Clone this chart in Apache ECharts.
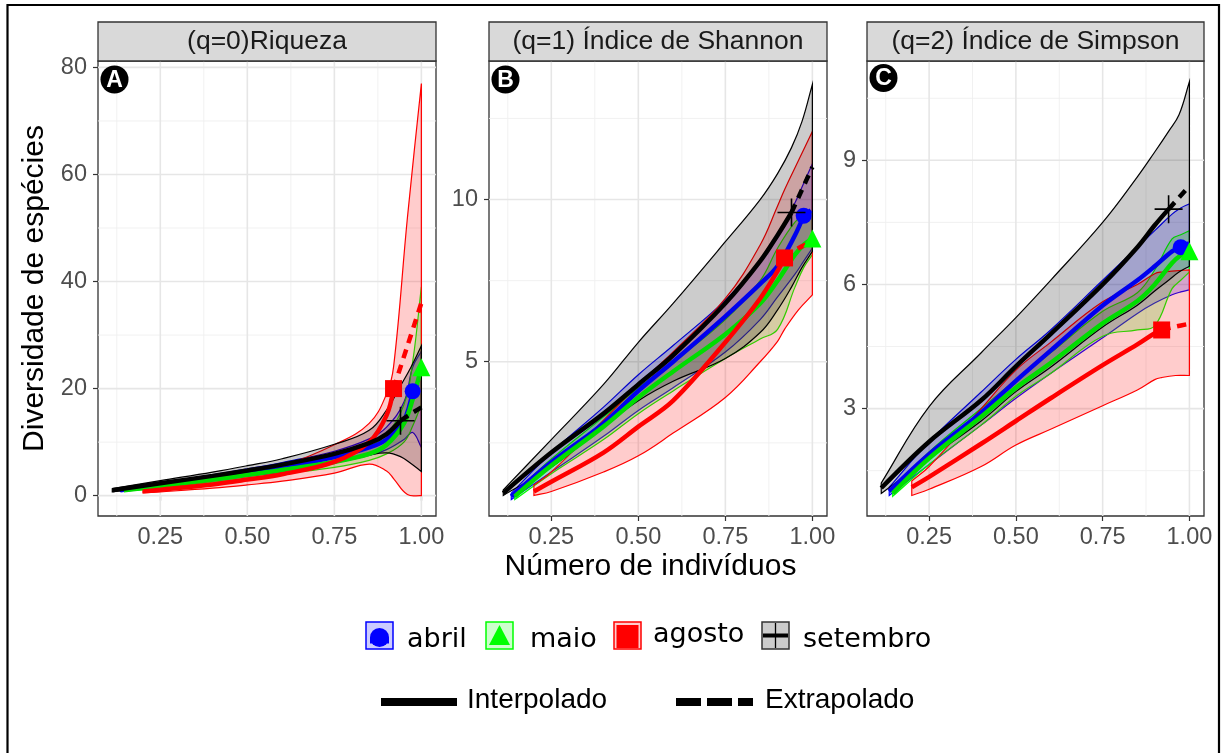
<!DOCTYPE html>
<html>
<head>
<meta charset="utf-8">
<script src="https://cdn.jsdelivr.net/npm/echarts@6/dist/echarts.min.js"></script>
<style>
  html, body { margin: 0; padding: 0; background: #ffffff; }
  #chart { width: 1223px; height: 753px; }
</style>
</head>
<body>
<div id="chart"></div>
<script>
// ---------------------------------------------------------------------------
// Data: rarefaction / extrapolation curves per month (relative sample size)
// ---------------------------------------------------------------------------
const months = ['abril', 'maio', 'agosto', 'setembro'];
const panelTitles = ['(q=0)Riqueza', '(q=1) Índice de Shannon', '(q=2) Índice de Simpson'];
const panelLetters = ['A', 'B', 'C'];

const xAbril    = [0.135, 0.25, 0.4, 0.5, 0.6, 0.75, 0.85, 0.9, 0.95, 0.975, 1.0];
const xMaio     = [0.145, 0.25, 0.4, 0.5, 0.6, 0.75, 0.85, 0.9, 0.95, 0.975, 1.0];
const xAgosto   = [0.2, 0.25, 0.4, 0.5, 0.6, 0.75, 0.85, 0.9, 0.92, 0.96, 1.0];
const xSetembro = [0.112, 0.25, 0.4, 0.5, 0.6, 0.75, 0.85, 0.9, 0.94, 0.97, 1.0];
// position of the observed sample in each list: interpolated before, extrapolated after
const observedIndex = [9, 10, 8, 8];

// q = 0 (species richness)
const q0AbrilMean    = [1.0, 2.0, 3.3, 4.3, 5.3, 7.2, 9.0, 10.5, 14.0, 19.5, 22.0];
const q0AbrilLow     = [0.8, 1.6, 2.7, 3.6, 4.4, 6.1, 7.5, 8.6, 10.5, 11.8, 9.0];
const q0AbrilHigh    = [1.2, 2.4, 3.9, 5.0, 6.2, 8.3, 10.6, 12.8, 17.5, 24.0, 27.0];
const q0MaioMean     = [1.0, 1.8, 3.0, 3.9, 4.8, 6.3, 7.8, 9.5, 13.5, 18.0, 24.0];
const q0MaioLow      = [0.8, 1.4, 2.5, 3.3, 4.1, 5.3, 6.6, 7.8, 10.0, 13.0, 17.0];
const q0MaioHigh     = [1.2, 2.2, 3.5, 4.5, 5.5, 7.3, 9.2, 11.5, 17.0, 25.0, 39.0];
const q0AgostoMean   = [0.8, 1.1, 2.1, 3.0, 4.0, 6.3, 10.0, 15.0, 20.0, 28.0, 36.0];
const q0AgostoLow    = [0.5, 0.7, 1.4, 2.0, 2.7, 4.2, 5.9, 4.6, 3.2, 0.2, 0.0];
const q0AgostoHigh   = [1.0, 1.4, 2.8, 4.0, 5.5, 9.5, 13.5, 19.0, 24.0, 52.0, 77.0];
const q0SetembroMean = [1.0, 2.3, 3.7, 4.7, 5.8, 7.8, 9.8, 11.5, 14.0, 15.3, 16.5];
const q0SetembroLow  = [0.7, 1.8, 3.0, 3.8, 4.7, 6.3, 7.6, 8.0, 7.3, 6.0, 4.5];
const q0SetembroHigh = [1.3, 2.8, 4.4, 5.6, 6.9, 9.6, 12.2, 16.0, 20.5, 24.0, 28.0];

// q = 1 (Shannon)
const q1AbrilMean    = [0.85, 1.9, 3.1, 4.1, 5.0, 6.4, 7.4, 7.95, 8.9, 9.5, 9.7];
const q1AbrilLow     = [0.75, 1.6, 2.7, 3.5, 4.2, 5.3, 6.3, 7.0, 7.7, 8.1, 8.5];
const q1AbrilHigh    = [0.95, 2.2, 3.6, 4.6, 5.5, 6.9, 8.1, 8.9, 9.9, 10.5, 11.1];
const q1MaioMean     = [0.85, 1.8, 3.0, 3.9, 4.7, 5.85, 6.8, 7.5, 8.3, 8.6, 8.8];
const q1MaioLow      = [0.75, 1.55, 2.6, 3.4, 4.1, 5.1, 5.7, 6.0, 7.3, 7.9, 8.3];
const q1MaioHigh     = [0.95, 2.0, 3.3, 4.2, 5.0, 6.3, 7.5, 8.5, 9.3, 9.5, 9.6];
const q1AgostoMean   = [1.0, 1.3, 2.2, 3.0, 3.8, 5.6, 6.95, 7.8, 8.2, 8.5, 8.7];
const q1AgostoLow    = [0.88, 1.0, 1.6, 2.1, 2.8, 3.9, 5.0, 5.63, 6.0, 6.6, 7.06];
const q1AgostoHigh   = [1.2, 1.6, 3.2, 4.3, 5.3, 6.95, 8.6, 9.8, 10.3, 11.2, 12.1];
const q1SetembroMean = [0.95, 2.2, 3.4, 4.3, 5.2, 6.8, 8.1, 8.9, 9.6, 10.3, 11.0];
const q1SetembroLow  = [0.88, 1.75, 3.0, 3.8, 4.4, 5.1, 5.9, 6.6, 7.3, 7.9, 8.4];
const q1SetembroHigh = [1.05, 2.6, 4.3, 5.6, 6.8, 8.7, 10.0, 10.8, 11.6, 12.4, 13.55];

// q = 2 (Simpson)
const q2AbrilMean    = [1.0, 1.9, 2.9, 3.67, 4.4, 5.49, 6.1, 6.44, 6.8, 6.9, 7.0];
const q2AbrilLow     = [0.9, 1.65, 2.6, 3.25, 3.85, 4.71, 5.3, 5.55, 5.75, 5.82, 5.87];
const q2AbrilHigh    = [1.1, 2.2, 3.4, 4.19, 4.9, 6.1, 6.9, 7.3, 7.7, 7.85, 7.95];
const q2MaioMean     = [0.95, 1.8, 2.8, 3.5, 4.1, 5.06, 5.6, 6.0, 6.52, 6.7, 6.8];
const q2MaioLow      = [0.88, 1.65, 2.6, 3.3, 3.85, 4.75, 4.9, 5.0, 5.9, 6.1, 6.3];
const q2MaioHigh     = [1.02, 1.95, 3.0, 3.7, 4.35, 5.35, 5.8, 6.35, 7.1, 7.2, 7.3];
const q2AgostoMean   = [1.1, 1.35, 2.15, 2.7, 3.25, 4.05, 4.55, 4.82, 4.9, 4.98, 5.05];
const q2AgostoLow    = [0.9, 1.05, 1.6, 2.12, 2.5, 3.07, 3.45, 3.7, 3.75, 3.8, 3.8];
const q2AgostoHigh   = [1.25, 1.6, 3.0, 3.93, 4.6, 5.58, 6.0, 6.26, 6.3, 6.33, 6.35];
const q2SetembroMean = [1.08, 2.2, 3.2, 4.02, 4.8, 6.0, 6.9, 7.43, 7.82, 8.1, 8.38];
const q2SetembroLow  = [0.95, 1.8, 2.7, 3.41, 4.0, 4.97, 5.5, 5.84, 6.1, 6.3, 6.44];
const q2SetembroHigh = [1.2, 3.05, 4.35, 5.2, 6.1, 7.5, 8.6, 9.2, 9.7, 10.1, 10.9];

// Axis ticks and gridlines
const xTicks = [0.25, 0.5, 0.75, 1.0];
const xMinorGrid = [0.125, 0.375, 0.625, 0.875];
const yTicksA = [0, 20, 40, 60, 80];
const yMinorA = [10, 30, 50, 70];
const yTicksB = [5, 10];
const yMinorB = [2.5, 7.5, 12.5];
const yTicksC = [3, 6, 9];
const yMinorC = [1.5, 4.5, 7.5, 10.5];

// ---------------------------------------------------------------------------
// Layout and styling
// ---------------------------------------------------------------------------
const xValues = [xAbril, xMaio, xAgosto, xSetembro];
const panelData = [
  { mean: [q0AbrilMean, q0MaioMean, q0AgostoMean, q0SetembroMean],
    low:  [q0AbrilLow, q0MaioLow, q0AgostoLow, q0SetembroLow],
    high: [q0AbrilHigh, q0MaioHigh, q0AgostoHigh, q0SetembroHigh] },
  { mean: [q1AbrilMean, q1MaioMean, q1AgostoMean, q1SetembroMean],
    low:  [q1AbrilLow, q1MaioLow, q1AgostoLow, q1SetembroLow],
    high: [q1AbrilHigh, q1MaioHigh, q1AgostoHigh, q1SetembroHigh] },
  { mean: [q2AbrilMean, q2MaioMean, q2AgostoMean, q2SetembroMean],
    low:  [q2AbrilLow, q2MaioLow, q2AgostoLow, q2SetembroLow],
    high: [q2AbrilHigh, q2MaioHigh, q2AgostoHigh, q2SetembroHigh] }
];
const yTickSets = [yTicksA, yTicksB, yTicksC];
const yMinorSets = [yMinorA, yMinorB, yMinorC];

const GRID_LEFT = [98, 489, 867];
const GRID_WIDTH = [338, 338, 337];
const GRID_TOP = 61;
const GRID_HEIGHT = 455;
const X_RANGE = [0.071, 1.042];
const Y_RANGES = [[-3.8, 81.2], [0.245, 14.27], [0.404, 11.40]];

const COLORS = ['#0000ff', '#00ff00', '#ff0000', '#000000'];
const LINE_COLORS = ['#0000ee', '#00dd00', '#ff0000', '#000000'];
const PLUS_PATH = 'path://M0,13.2 H28 V14.8 H0 Z M13.2,0 H14.8 V28 H13.2 Z';
const SYMBOLS = ['circle', 'triangle', 'rect', PLUS_PATH];
const SYMBOL_SIZES = [16, 18, 17, 28];

const SANS = '"Liberation Sans", Arial, Helvetica, sans-serif';

function withAlpha(hex, a) {
  const r = parseInt(hex.slice(1, 3), 16);
  const g = parseInt(hex.slice(3, 5), 16);
  const b = parseInt(hex.slice(5, 7), 16);
  return 'rgba(' + r + ',' + g + ',' + b + ',' + a + ')';
}

// ---------------------------------------------------------------------------
// Axes
// ---------------------------------------------------------------------------
const grids = [0, 1, 2].map(i => ({
  left: GRID_LEFT[i], top: GRID_TOP, width: GRID_WIDTH[i], height: GRID_HEIGHT,
  show: true, borderColor: '#333333', borderWidth: 1.3, backgroundColor: 'transparent',
  containLabel: false
}));

const xAxes = [0, 1, 2].map(i => ({
  type: 'value', gridIndex: i, min: X_RANGE[0], max: X_RANGE[1],
  axisLine: { show: false },
  splitLine: { show: false },
  axisTick: { show: true, customValues: xTicks, length: 5, lineStyle: { color: '#333333', width: 1.2 } },
  axisLabel: {
    customValues: xTicks, margin: 10, color: '#4d4d4d', fontSize: 23.5, fontFamily: SANS,
    formatter: v => v.toFixed(2)
  }
}));

const yAxes = [0, 1, 2].map(i => ({
  type: 'value', gridIndex: i, min: Y_RANGES[i][0], max: Y_RANGES[i][1],
  axisLine: { show: false },
  splitLine: { show: false },
  axisTick: { show: true, customValues: yTickSets[i], length: 5, lineStyle: { color: '#333333', width: 1.2 } },
  axisLabel: {
    customValues: yTickSets[i], margin: 11, color: '#4d4d4d', fontSize: 23.5, fontFamily: SANS,
    formatter: v => String(v)
  }
}));

// ---------------------------------------------------------------------------
// Series
// ---------------------------------------------------------------------------
const series = [];

function gridLineItems(p) {
  const items = [];
  xMinorGrid.forEach(v => items.push([0, v, 0]));
  yMinorSets[p].forEach(v => items.push([1, v, 0]));
  xTicks.forEach(v => items.push([0, v, 1]));
  yTickSets[p].forEach(v => items.push([1, v, 1]));
  return items;
}

function bandRenderer(xs, lo, hi, color) {
  return function (params, api) {
    if (params.dataIndex !== 0) return null;
    const n = xs.length;
    const up = xs.map((x, i) => api.coord([x, hi[i]]));
    const dn = xs.map((x, i) => api.coord([x, lo[i]]));
    // doubled end points keep the vertical edges straight while the curves stay smooth
    const pts = [up[0]];
    for (let i = 0; i < n; i++) pts.push(up[i]);
    pts.push(up[n - 1]);
    pts.push(dn[n - 1]);
    for (let i = n - 1; i >= 0; i--) pts.push(dn[i]);
    pts.push(dn[0]);
    return {
      type: 'polygon',
      shape: { points: pts, smooth: 0.4 },
      style: { fill: withAlpha(color, 0.2), stroke: color, lineWidth: 1.2 }
    };
  };
}

panelData.forEach((pd, p) => {
  // background grid
  series.push({
    type: 'custom', xAxisIndex: p, yAxisIndex: p, z: 1, silent: true,
    data: gridLineItems(p),
    renderItem: function (params, api) {
      const dir = api.value(0), v = api.value(1), major = api.value(2);
      const cs = params.coordSys;
      let shape;
      if (dir === 0) {
        const x = api.coord([v, Y_RANGES[p][0]])[0];
        shape = { x1: x, y1: cs.y, x2: x, y2: cs.y + cs.height };
      } else {
        const y = api.coord([X_RANGE[0], v])[1];
        shape = { x1: cs.x, y1: y, x2: cs.x + cs.width, y2: y };
      }
      return {
        type: 'line', shape: shape,
        style: { stroke: major ? '#e6e6e6' : '#efefef', lineWidth: major ? 1.6 : 0.9 }
      };
    }
  });

  // observed samples
  months.forEach((m, k) => {
    const idx = observedIndex[k];
    series.push({
      type: 'scatter', name: m, xAxisIndex: p, yAxisIndex: p, z: 2, silent: true,
      symbol: SYMBOLS[k], symbolSize: SYMBOL_SIZES[k],
      itemStyle: { color: COLORS[k], opacity: 1 },
      data: [[xValues[k][idx], pd.mean[k][idx]]]
    });
  });

  // interpolated (solid) and extrapolated (dashed) curves
  months.forEach((m, k) => {
    const idx = observedIndex[k];
    const pts = xValues[k].map((x, i) => [x, pd.mean[k][i]]);
    series.push({
      type: 'line', name: m, xAxisIndex: p, yAxisIndex: p, z: 2, silent: true,
      showSymbol: false, smooth: 0.35,
      lineStyle: { color: LINE_COLORS[k], width: 4.5, type: 'solid', cap: 'butt' },
      data: pts.slice(0, idx + 1)
    });
    if (idx < pts.length - 1) {
      series.push({
        type: 'line', name: m, xAxisIndex: p, yAxisIndex: p, z: 2, silent: true,
        showSymbol: false, smooth: 0.35,
        lineStyle: { color: LINE_COLORS[k], width: 4.5, type: [9, 7], cap: 'butt' },
        data: pts.slice(idx)
      });
    }
  });

  // confidence bands
  months.forEach((m, k) => {
    series.push({
      type: 'custom', name: m, xAxisIndex: p, yAxisIndex: p, z: 2, silent: true,
      data: xValues[k].map((x, i) => [x, pd.low[k][i], pd.high[k][i]]),
      encode: { x: 0, y: [1, 2] },
      renderItem: bandRenderer(xValues[k], pd.low[k], pd.high[k], COLORS[k])
    });
  });
});

// ---------------------------------------------------------------------------
// Frame, facet strips, panel tags, axis titles and legend
// ---------------------------------------------------------------------------
const graphics = [];

graphics.push({
  type: 'rect', silent: true, z: 0,
  shape: { x: 7.5, y: 5, width: 1211.5, height: 800 },
  style: { fill: 'none', stroke: '#000000', lineWidth: 2.2 }
});

[0, 1, 2].forEach(i => {
  graphics.push({
    type: 'rect', silent: true, z: 10,
    shape: { x: GRID_LEFT[i], y: 22, width: GRID_WIDTH[i], height: 39 },
    style: { fill: '#d9d9d9', stroke: '#333333', lineWidth: 1.3 }
  });
  graphics.push({
    type: 'text', silent: true, z: 11,
    x: GRID_LEFT[i] + GRID_WIDTH[i] / 2, y: 41.5,
    style: {
      text: panelTitles[i], fill: '#1a1a1a', font: '26.5px ' + SANS,
      align: 'center', verticalAlign: 'middle', textAlign: 'center', textVerticalAlign: 'middle'
    }
  });
  graphics.push({
    type: 'circle', silent: true, z: 10,
    shape: { cx: GRID_LEFT[i] + 16.5, cy: i === 2 ? 78 : 79.5, r: 14 },
    style: { fill: '#000000' }
  });
  graphics.push({
    type: 'text', silent: true, z: 11,
    x: GRID_LEFT[i] + 16.5, y: i === 2 ? 79 : 80.5,
    style: {
      text: panelLetters[i], fill: '#ffffff', font: 'bold 23px ' + SANS,
      align: 'center', verticalAlign: 'middle', textAlign: 'center', textVerticalAlign: 'middle'
    }
  });
});

graphics.push({
  type: 'text', silent: true, z: 10, x: 34.6, y: 288.5, rotation: Math.PI / 2,
  style: {
    text: 'Diversidade de espécies', fill: '#000000', font: '30px ' + SANS,
    align: 'center', verticalAlign: 'middle', textAlign: 'center', textVerticalAlign: 'middle'
  }
});
graphics.push({
  type: 'text', silent: true, z: 10, x: 650.5, y: 567,
  style: {
    text: 'Número de indivíduos', fill: '#000000', font: '30px ' + SANS,
    align: 'center', verticalAlign: 'middle', textAlign: 'center', textVerticalAlign: 'middle'
  }
});

// legend: fill + line + symbol keys
const keyX = [366, 486, 614, 762];
const keyTextX = [407, 530, 653, 803];
const keyTextY = [640, 640, 635, 640];
const KEY_Y = 622, KEY = 27;
months.forEach((m, k) => {
  const x0 = keyX[k], cx = x0 + KEY / 2, cy = KEY_Y + KEY / 2;
  graphics.push({
    type: 'rect', silent: true, z: 10,
    shape: { x: x0, y: KEY_Y, width: KEY, height: KEY },
    style: { fill: withAlpha(COLORS[k], 0.2), stroke: k === 3 ? '#333333' : COLORS[k], lineWidth: 1.5 }
  });
  if (k === 0) {
    graphics.push({ type: 'circle', silent: true, z: 11, shape: { cx: cx, cy: cy + 2, r: 9.5 }, style: { fill: COLORS[k] } });
    graphics.push({ type: 'rect', silent: true, z: 11, shape: { x: cx - 9.5, y: cy + 2, width: 19, height: 6 }, style: { fill: COLORS[k] } });
  } else if (k === 1) {
    graphics.push({
      type: 'polygon', silent: true, z: 11,
      shape: { points: [[cx, KEY_Y + 3], [x0 + 3, KEY_Y + 23], [x0 + KEY - 3, KEY_Y + 23]] },
      style: { fill: COLORS[k] }
    });
  } else if (k === 2) {
    graphics.push({ type: 'rect', silent: true, z: 11, shape: { x: x0 + 2.5, y: KEY_Y + 3, width: 22, height: 23 }, style: { fill: COLORS[k] } });
  } else {
    graphics.push({ type: 'line', silent: true, z: 11, shape: { x1: cx, y1: KEY_Y + 1, x2: cx, y2: KEY_Y + KEY - 1 }, style: { stroke: '#000000', lineWidth: 1.3 } });
    graphics.push({ type: 'line', silent: true, z: 11, shape: { x1: x0 + 1, y1: cy, x2: x0 + KEY - 1, y2: cy }, style: { stroke: '#000000', lineWidth: 4 } });
  }
  graphics.push({
    type: 'text', silent: true, z: 11, x: keyTextX[k], y: keyTextY[k],
    style: {
      text: m, fill: '#000000', font: '27px "DejaVu Sans", sans-serif',
      align: 'left', verticalAlign: 'middle', textAlign: 'left', textVerticalAlign: 'middle'
    }
  });
});

graphics.push({ type: 'line', silent: true, z: 10, shape: { x1: 381, y1: 702, x2: 457, y2: 702 }, style: { stroke: '#000000', lineWidth: 8 } });
graphics.push({
  type: 'text', silent: true, z: 10, x: 467, y: 700,
  style: { text: 'Interpolado', fill: '#000000', font: '28px ' + SANS, align: 'left', verticalAlign: 'middle', textAlign: 'left', textVerticalAlign: 'middle' }
});
graphics.push({ type: 'line', silent: true, z: 10, shape: { x1: 676, y1: 702, x2: 753, y2: 702 }, style: { stroke: '#000000', lineWidth: 8, lineDash: [25, 6] } });
graphics.push({
  type: 'text', silent: true, z: 10, x: 765, y: 700,
  style: { text: 'Extrapolado', fill: '#000000', font: '28px ' + SANS, align: 'left', verticalAlign: 'middle', textAlign: 'left', textVerticalAlign: 'middle' }
});

const chart = echarts.init(document.getElementById('chart'), null, { renderer: 'canvas' });
chart.setOption({
  animation: false,
  backgroundColor: '#ffffff',
  grid: grids,
  xAxis: xAxes,
  yAxis: yAxes,
  series: series,
  graphic: { elements: graphics }
});
</script>
</body>
</html>
